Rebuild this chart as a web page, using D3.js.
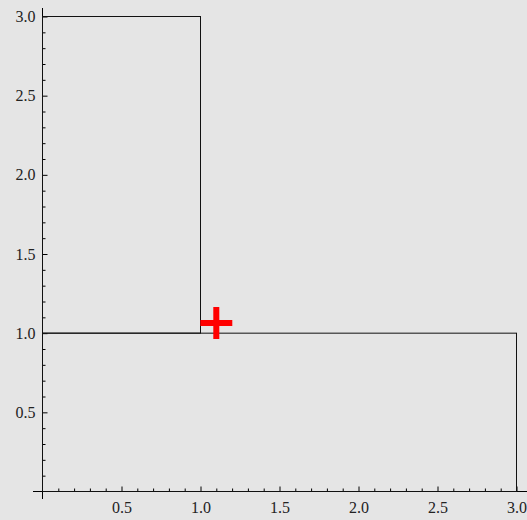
<!DOCTYPE html>
<html>
<head>
<meta charset="utf-8">
<script src="https://cdn.jsdelivr.net/npm/d3@7"></script>
<style>
  html, body { margin: 0; padding: 0; background: #e5e5e5; }
  svg { display: block; }
</style>
</head>
<body>
<div id="chart"></div>
<script>
// rectangles drawn as outlines: [x0, x1, y0, y1]
var rectX0 = [0, 0];
var rectX1 = [1, 3];
var rectY0 = [1, 0];
var rectY1 = [3, 1];

// red plus marker
var markX = [1.1];
var markY = [1.065];

var majorTicks = [0.5, 1.0, 1.5, 2.0, 2.5, 3.0];
var minorTicks = [0.1, 0.2, 0.3, 0.4, 0.6, 0.7, 0.8, 0.9, 1.1, 1.2, 1.3, 1.4,
                  1.6, 1.7, 1.8, 1.9, 2.1, 2.2, 2.3, 2.4, 2.6, 2.7, 2.8, 2.9];

function init() {
    var w = 527;
    var h = 520;

    var xScale = d3.scaleLinear().domain([0, 3]).range([42.5, 516.5]);
    var yScale = d3.scaleLinear().domain([0, 3]).range([491.5, 16.5]);

    var svg = d3.select("#chart")
            .append("svg")
            .attr("width", w)
            .attr("height", h);

    svg.append("rect")
        .attr("width", w)
        .attr("height", h)
        .attr("fill", "#e5e5e5");

    // axes lines
    svg.append("line")
        .attr("x1", xScale(0)).attr("x2", xScale(0))
        .attr("y1", 8).attr("y2", 499)
        .attr("stroke", "#000");
    svg.append("line")
        .attr("x1", 33).attr("x2", w)
        .attr("y1", yScale(0)).attr("y2", yScale(0))
        .attr("stroke", "#000");

    var fmt = d3.format(".1f");

    var xAxis = d3.axisBottom(xScale).tickValues(majorTicks).tickSize(-5).tickPadding(10).tickFormat(fmt);
    var xMinor = d3.axisBottom(xScale).tickValues(minorTicks).tickSize(-3).tickFormat("");
    var yAxis = d3.axisLeft(yScale).tickValues(majorTicks).tickSize(-5).tickPadding(7).tickFormat(fmt);
    var yMinor = d3.axisLeft(yScale).tickValues(minorTicks).tickSize(-3).tickFormat("");

    [[xAxis, "x"], [xMinor, "x"], [yAxis, "y"], [yMinor, "y"]].forEach(function(a) {
        var g = svg.append("g")
            .attr("transform", a[1] == "x" ? "translate(0," + yScale(0) + ")" : "translate(" + xScale(0) + ",0)")
            .call(a[0]);
        g.select(".domain").remove();
        g.selectAll(".tick line").attr("stroke", "#000");
        g.selectAll("text")
            .attr("fill", "#222")
            .style("font-family", "'Liberation Serif', 'DejaVu Serif', serif")
            .style("font-size", "16px");
    });

    // outlines
    rectX0.forEach(function(d, i) {
        svg.append("rect")
            .attr("x", xScale(rectX0[i]))
            .attr("y", yScale(rectY1[i]))
            .attr("width", xScale(rectX1[i]) - xScale(rectX0[i]))
            .attr("height", yScale(rectY0[i]) - yScale(rectY1[i]))
            .attr("fill", "none")
            .attr("stroke", "#111")
            .attr("stroke-width", 1);
    });

    // marker
    markX.forEach(function(d, i) {
        var cx = xScale(markX[i]), cy = yScale(markY[i]);
        svg.append("path")
            .attr("d", "M" + (cx - 16) + "," + cy + "H" + (cx + 16) + "M" + cx + "," + (cy - 16) + "V" + (cy + 16))
            .attr("stroke", "#ff0000")
            .attr("stroke-width", 6)
            .attr("fill", "none");
    });
}

window.onload = init;
</script>
</body>
</html>
